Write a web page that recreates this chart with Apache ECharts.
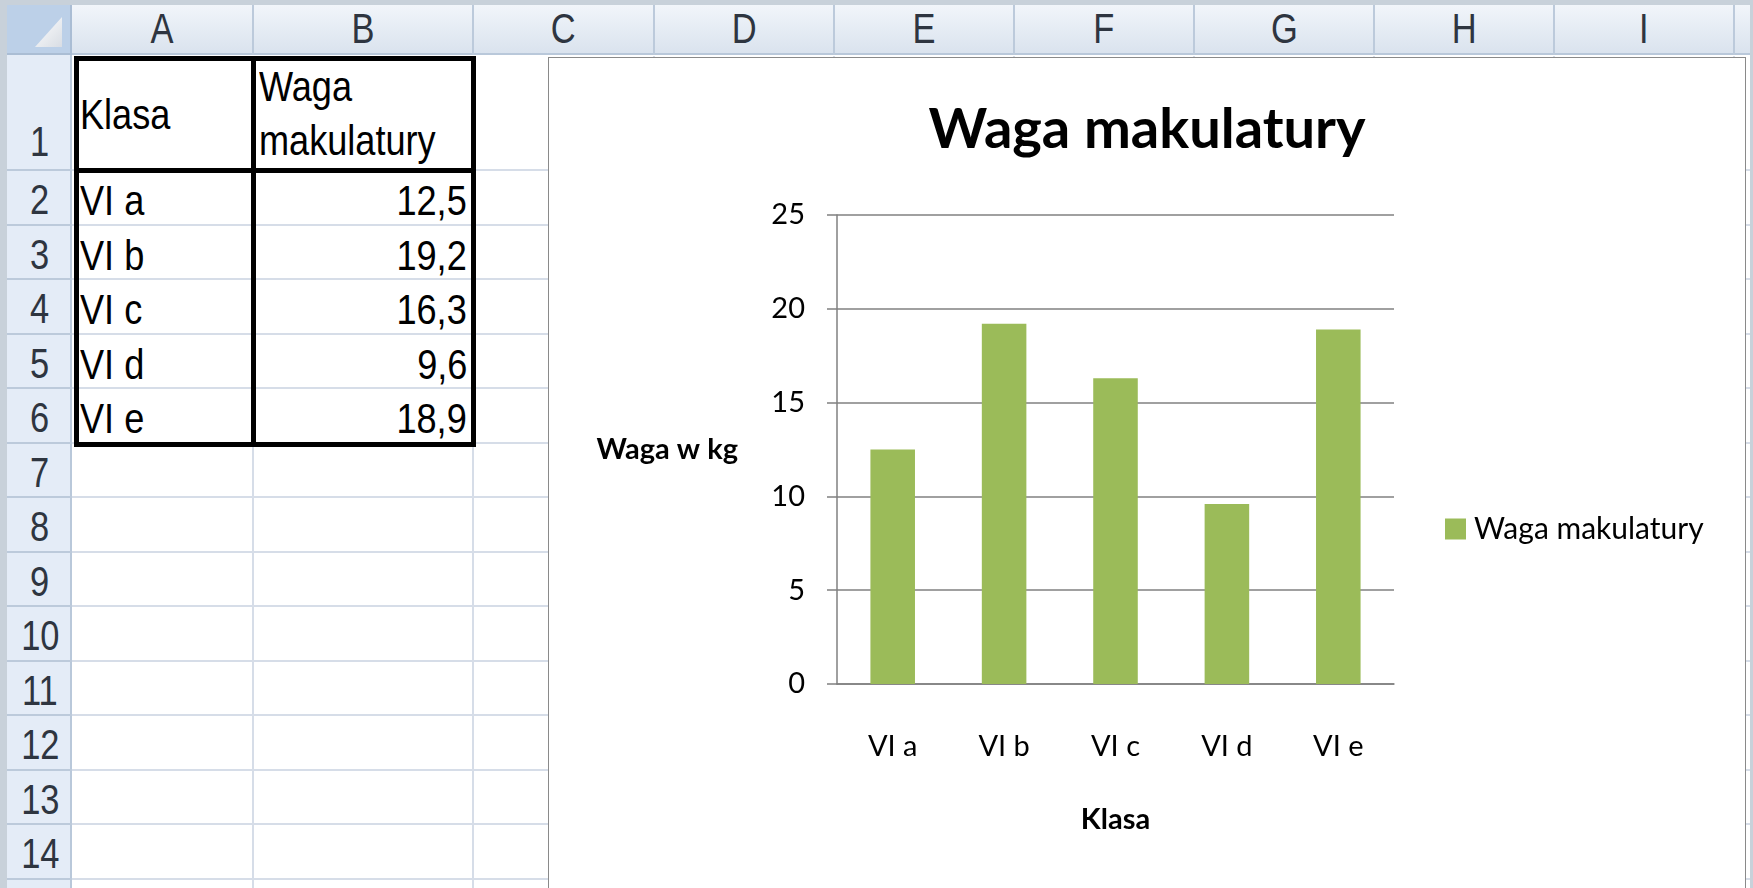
<!DOCTYPE html>
<html>
<head>
<meta charset="utf-8">
<script src="https://cdn.jsdelivr.net/npm/echarts@6/dist/echarts.min.js"></script>
<style>
  html, body { margin: 0; width: 1753px; height: 888px; overflow: hidden; background: #c8d1da; }
  .box { position: absolute; box-sizing: border-box; }
  .txt { position: absolute; font-family: "Liberation Sans", Arial, sans-serif; font-size: 42px; line-height: 42px; white-space: nowrap; color: #000; }
  .txt span { display: inline-block; transform: scaleX(0.86); }
  .left span { transform-origin: left center; }
  .right span { transform-origin: right center; }
  .center span { transform-origin: center center; transform: scaleX(0.82); }
  #chartWrap { position: absolute; left: 548px; top: 57px; width: 1198px; height: 840px; border: 1px solid #8a8a8a; background: #fff; box-sizing: border-box; z-index: 5; }
  #chart { position: absolute; left: 0; top: 0; width: 1196px; height: 838px; }
</style>
</head>
<body>
<div id="sheet"></div>
<div id="chartWrap"><div id="chart"></div></div>
<script>
// data
const categories = ["VI a", "VI b", "VI c", "VI d", "VI e"];
const weights = [12.5, 19.2, 16.3, 9.6, 18.9];
const seriesName = "Waga makulatury";
const categoryHeader = "Klasa";
const valueHeader = ["Waga", "makulatury"];
const yAxisName = "Waga w kg";
const colLetters = ["A", "B", "C", "D", "E", "F", "G", "H", "I"];
const rowCount = 15;

// sheet layout (pixels)
const colEdges = [72, 253, 473, 654, 834, 1014, 1194, 1374, 1554, 1734, 1750];
const rowEdges = [55, 170];
for (let i = 1; i < rowCount; i++) rowEdges.push(170 + i * 54.5);

const sheet = document.getElementById("sheet");

function addBox(x, y, w, h, css) {
  const d = document.createElement("div");
  d.className = "box";
  d.style.left = x + "px";
  d.style.top = y + "px";
  d.style.width = w + "px";
  d.style.height = h + "px";
  d.style.cssText += css;
  sheet.appendChild(d);
  return d;
}

// cap centre at y; align left/right/center at x
function addText(str, x, y, align, color) {
  const d = document.createElement("div");
  d.className = "txt " + align;
  d.style.top = y - 21 + "px";
  if (align === "left") d.style.left = x + "px";
  else if (align === "right") d.style.right = 1753 - x + "px";
  else {
    d.style.left = x - 100 + "px";
    d.style.width = "200px";
    d.style.textAlign = "center";
  }
  if (color) d.style.color = color;
  const s = document.createElement("span");
  s.textContent = str;
  d.appendChild(s);
  sheet.appendChild(d);
}

function formatPl(v) {
  return v.toFixed(1).replace(".", ",");
}

function drawSheet() {
  // cells background
  addBox(72, 55, 1678, 833, "background:#fff;");
  // column header bar
  addBox(72, 5, 1678, 50, "background:linear-gradient(#f1f5fa,#dae3ee);border-bottom:2px solid #b9c8da;");
  // row header bar
  addBox(7, 55, 65, 833, "background:#e4ecf7;border-right:2px solid #b9c8da;");
  // corner
  addBox(7, 5, 65, 50, "background:#bcd0e8;border-right:2px solid #aabdd4;border-bottom:2px solid #aabdd4;");
  addBox(35, 17, 27, 30, "background:linear-gradient(135deg,#ffffff,#d8dde4);clip-path:polygon(100% 0,100% 100%,0 100%);");

  // gridlines
  for (let i = 1; i < colEdges.length - 1; i++) {
    addBox(colEdges[i] - 1, 56, 2, 832, "background:#d6dde8;");
    addBox(colEdges[i] - 1, 5, 2, 50, "background:#bccadb;");
  }
  for (let r = 1; r < rowEdges.length; r++) {
    addBox(72, rowEdges[r] - 1, 1678, 2, "background:#d6dde8;");
    addBox(7, rowEdges[r] - 1, 65, 2, "background:#bccadb;");
  }

  // headers text
  for (let c = 0; c < colLetters.length; c++) {
    addText(colLetters[c], (colEdges[c] + colEdges[c + 1]) / 2, 29, "center", "#2e3540");
  }
  addText("1", 40, 142, "center", "#2e3540");
  for (let r = 2; r <= 14; r++) {
    addText(String(r), 40, (rowEdges[r - 1] + rowEdges[r]) / 2 + 3, "center", "#2e3540");
  }

  // table content
  addText(categoryHeader, 80, 115, "left");
  addText(valueHeader[0], 259, 87, "left");
  addText(valueHeader[1], 259, 141, "left");
  for (let i = 0; i < categories.length; i++) {
    const cy = (rowEdges[i + 1] + rowEdges[i + 2]) / 2 + 4;
    addText(categories[i], 80, cy, "left");
    addText(formatPl(weights[i]), 467, cy, "right");
  }

  // thick borders round A1:B6
  const tb = rowEdges[1 + categories.length];
  addBox(74, 56, 402, tb - 56 + 4, "border:5px solid #000;");
  addBox(251, 56, 5, tb - 56, "background:#000;");
  addBox(74, 168, 402, 5, "background:#000;");
}
drawSheet();

// chart
const chartDom = document.getElementById("chart");
const myChart = echarts.init(chartDom, null, { renderer: "canvas" });

const axisGrey = "#808080";
const font = "Lato";

const option = {
  animation: false,
  textStyle: { fontFamily: font },
  title: {
    text: seriesName,
    left: "center",
    top: 39,
    textStyle: { fontFamily: font, fontSize: 56, fontWeight: "bold", color: "#000" },
  },
  legend: {
    data: [seriesName],
    left: 896,
    top: 456,
    padding: 0,
    icon: "rect",
    itemWidth: 21,
    itemHeight: 21,
    textStyle: { fontFamily: font, fontSize: 30, color: "#000", padding: [0, 0, 0, 3] },
  },
  grid: { left: 288, top: 157, width: 557, height: 469, outerBoundsMode: "none" },
  xAxis: {
    type: "category",
    data: categories,
    name: categoryHeader,
    nameLocation: "middle",
    nameGap: 136,
    nameTextStyle: { fontFamily: font, fontSize: 29, fontWeight: "bold", color: "#000", verticalAlign: "middle" },
    axisLine: { lineStyle: { color: axisGrey, width: 1.5 } },
    axisTick: { length: 10, lineStyle: { color: axisGrey, width: 1.5 } },
    axisLabel: { margin: 48, fontSize: 29, color: "#000", fontFamily: font },
  },
  yAxis: {
    type: "value",
    min: 0,
    max: 25,
    interval: 5,
    name: yAxisName,
    nameLocation: "middle",
    nameRotate: 0,
    nameGap: 99,
    nameTextStyle: {
      fontFamily: font, fontSize: 29, fontWeight: "bold", color: "#000",
      align: "right", verticalAlign: "middle", padding: [12, 0, 0, 0],
    },
    axisLine: { show: true, lineStyle: { color: axisGrey, width: 1.5 } },
    axisTick: { show: true, length: 10, lineStyle: { color: axisGrey, width: 1.5 } },
    axisLabel: { margin: 32, fontSize: 29, color: "#000", fontFamily: font },
    splitLine: { show: true, lineStyle: { color: axisGrey, width: 1.5 } },
  },
  series: [
    {
      name: seriesName,
      type: "bar",
      data: weights,
      barWidth: "40%",
      itemStyle: { color: "#9bbb59" },
    },
  ],
};
myChart.setOption(option);
</script>
</body>
</html>
